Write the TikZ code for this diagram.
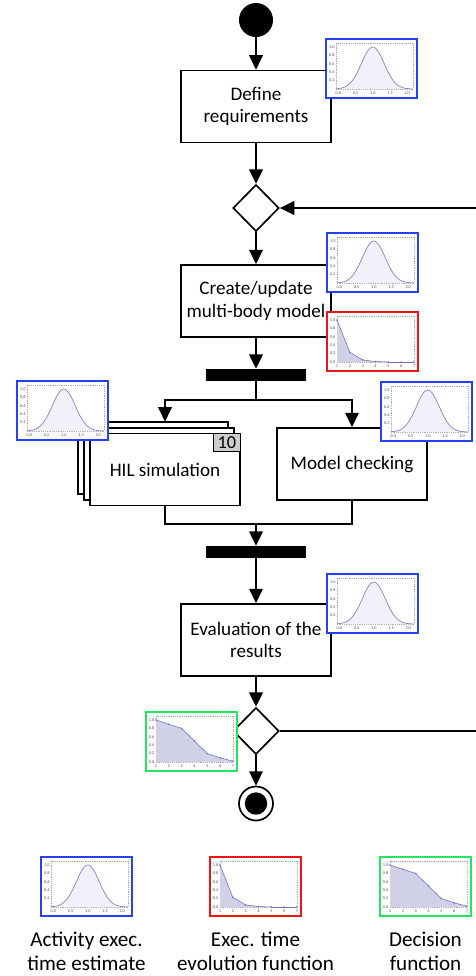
\documentclass[tikz,border=0pt]{standalone}
\usepackage{fontspec}
\setmainfont{Carlito}
\usetikzlibrary{arrows.meta,positioning,shapes.geometric,shadows}

\definecolor{plotblue}{RGB}{35,65,245}
\definecolor{plotred}{RGB}{240,20,20}
\definecolor{plotgreen}{RGB}{35,230,95}
\definecolor{curvecol}{RGB}{110,110,200}
\definecolor{bellfill}{RGB}{241,241,250}
\definecolor{areafill}{RGB}{208,208,230}
\definecolor{badgegray}{RGB}{205,205,205}

\tikzset{
  ticklabel/.style={font=\fontsize{3}{3}\selectfont, text=black!70, inner sep=0pt},
  curveline/.style={draw=curvecol, line width=0.4pt},
  ptdot/.style={circle, fill=curvecol, minimum size=1.2pt, inner sep=0pt},
  pics/bellplot/.style={code={
    \fill[white] (0,0) rectangle (91,59);
    \draw[black!35, densely dotted, line width=0.3pt] (10,4) rectangle (87,50);
    \begin{scope}[shift={(12.4,50)}, xscale=34.4, yscale=-42]
      \fill[bellfill] plot[domain=-0.07:2.17, samples=60, smooth] (\x,{exp(-((\x-1)*(\x-1))/0.22)}) -- (2.17,0) -- (-0.07,0) -- cycle;
      \draw[curveline] plot[domain=-0.07:2.17, samples=60, smooth] (\x,{exp(-((\x-1)*(\x-1))/0.22)});
      \foreach \t in {0.0,0.5,1.0,1.5,2.0}
        \node[ticklabel] at (\t,-0.1) {\t};
      \foreach \t in {0.2,0.4,0.6,0.8,1.0}
        \node[ticklabel] at (-0.19,\t) {\t};
    \end{scope}
    \draw[line width=1.3pt, plotblue] (0,0) rectangle (91,59);
  }},
  pics/ptsplot/.style 2 args={code={
    \fill[white] (0,0) rectangle (91,59);
    \draw[black!35, densely dotted, line width=0.3pt] (10,4) rectangle (87,50);
    \begin{scope}[shift={(10,50)}, xscale=12.83, yscale=-42]
      \fill[areafill] (0,0) \foreach \v [count=\i from 0] in {#2} { -- (\i,\v) } -- (6,0) -- cycle;
      \foreach \v [count=\i from 0, remember=\v as \pv (initially 0)] in {#2} {
        \ifnum\i>0 \draw[curveline] (\i-1,\pv) -- (\i,\v); \fi
        \node[ptdot] at (\i,\v) {};
      }
      \foreach \n in {1,...,7}
        \node[ticklabel] at (\n-1,-0.1) {\n};
      \foreach \t in {0.0,0.2,0.4,0.6,0.8,1.0}
        \node[ticklabel] at (-0.35,\t) {\t};
    \end{scope}
    \draw[line width=1.3pt, #1] (0,0) rectangle (91,59);
  }},
}

\begin{document}
\begin{tikzpicture}[x=0.025cm, y=-0.025cm,
    >={Triangle[width=0.34cm,length=0.36cm]},
    activity/.style={draw, line width=1.2pt, fill=white, minimum width=3.75cm,
      minimum height=1.8cm, align=center, font=\fontsize{13.6}{15.8}\selectfont},
    decision/.style={diamond, draw, line width=1.2pt, fill=white,
      minimum width=1.15cm, minimum height=1.17cm, inner sep=0pt},
    forkbar/.style={fill=black, minimum width=2.5cm, minimum height=0.3cm, inner sep=0pt},
    startdot/.style={circle, fill=black, minimum size=0.85cm, inner sep=0pt},
    enddot/.style={circle, draw, line width=1.2pt, minimum size=0.85cm, inner sep=0pt,
      path picture={\fill (path picture bounding box.center) circle (0.28cm);}},
    badge/.style={draw, line width=0.8pt, fill=badgegray, minimum width=0.675cm,
      minimum height=0.45cm, inner sep=0pt, font=\fontsize{13}{13}\selectfont},
    legendtext/.style={align=center, font=\fontsize{15}{17.2}\selectfont},
    link/.style={line width=1.4pt}]
  \useasboundingbox (0,0) rectangle (475,976);

  \path (256,20) node[startdot] (start) {}
        (256,106.5) node[activity] (define) {Define\\requirements}
        (256,208) node[decision] (check) {}
        (256,301) node[activity] (create) {Create/update\\multi-body model}
        (256,375) node[forkbar] (fork) {}
        (165,469.5) node[activity, double copy shadow={shadow xshift=-0.15cm, shadow yshift=0.14cm}] (hil) {HIL simulation}
        (352,464) node[activity] (model) {Model checking}
        (256,552) node[forkbar] (join) {}
        (256,640) node[activity] (eval) {Evaluation of the\\results}
        (256,731) node[decision] (accept) {}
        (256,803.5) node[enddot] (stop) {};
  \node[badge, anchor=north east] (runs) at (hil.north east) {10};

  \coordinate (split) at (256,400);
  \coordinate (merge) at (256,524);
  \coordinate (loopb) at (476.5,731);
  \coordinate (loopt) at (476.5,208);

  \draw[link,->] (start) -- (define);
  \draw[link,->] (define) -- (check);
  \draw[link,->] (check) -- (create);
  \draw[link,->] (create) -- (fork);
  \draw[link] (fork) -- (split);
  \draw[link,->] (split) -| ([yshift=0.275cm]hil.north);
  \draw[link,->] (split) -| (model.north);
  \draw[link] (hil.south) |- (merge) -| (model.south);
  \draw[link,->] (merge) -- (join);
  \draw[link,->] (join) -- (eval);
  \draw[link,->] (eval) -- (accept);
  \draw[link,->] (accept) -- (stop);
  \draw[link,->] (accept.east) -- (loopb) -- (loopt) -- (check.east);

  % time estimates and functions
  \pic at (326,39) {bellplot};
  \pic at (327,233) {bellplot};
  \pic at (327,312) {ptsplot={plotred}{1.0,0.23,0.05,0.01,0,0,0}};
  \pic at (17,381) {bellplot};
  \pic at (381,382) {bellplot};
  \pic at (327,574) {bellplot};
  \pic at (146,712) {ptsplot={plotgreen}{1.0,0.9,0.8,0.5,0.2,0.1,0.02}};

  % legend
  \pic at (41,857) {bellplot};
  \pic at (210,857) {ptsplot={plotred}{1.0,0.23,0.05,0.01,0,0,0}};
  \pic at (380,857) {ptsplot={plotgreen}{1.0,0.9,0.8,0.5,0.2,0.1,0.02}};
  \path (86.5,951) node[legendtext] (estlabel) {Activity exec.\\time estimate}
        (255.5,951) node[legendtext] (evolabel) {Exec. time\\evolution function}
        (425.5,951) node[legendtext] (declabel) {Decision\\function};
\end{tikzpicture}
\end{document}
